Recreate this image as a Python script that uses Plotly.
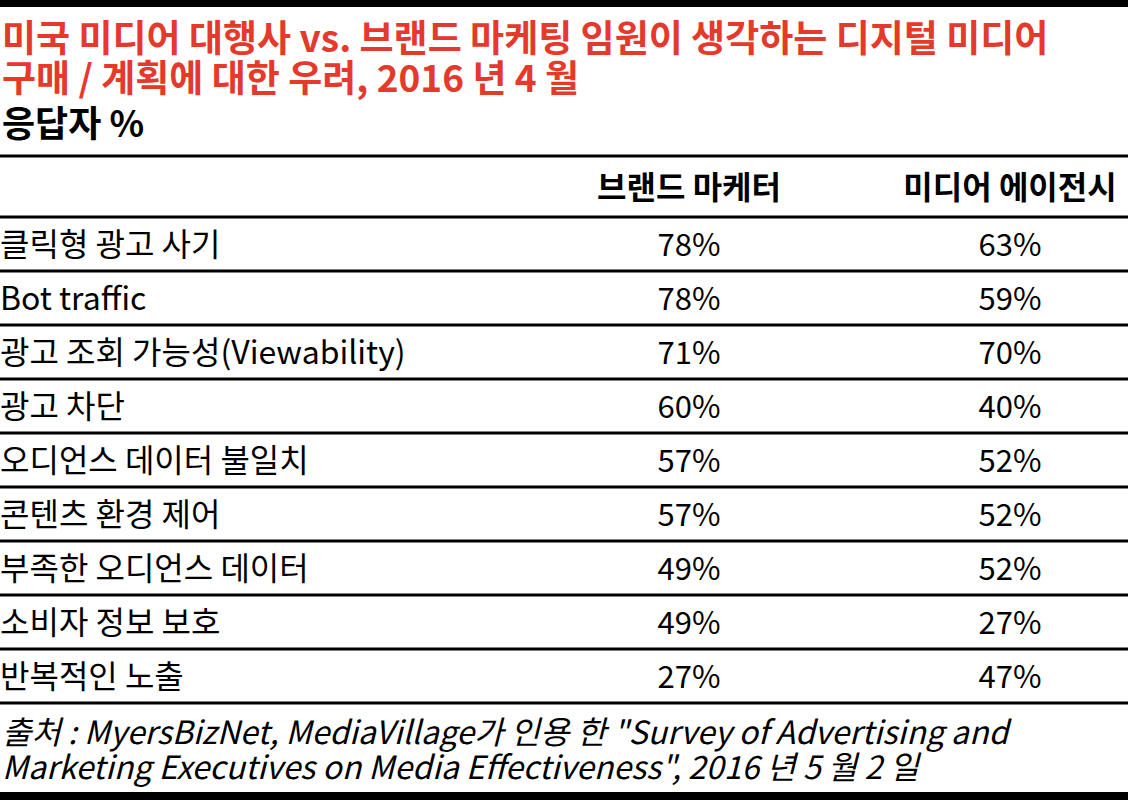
import plotly.graph_objects as go

W, H = 1128, 800
FONT = "Noto Sans CJK KR"
RED = "#e5392c"

title_lines = ["미국 미디어 대행사 vs. 브랜드 마케팅 임원이 생각하는 디지털 미디어",
               "구매 / 계획에 대한 우려, 2016 년 4 월"]
subtitle = "응답자 %"
columns = ["브랜드 마케터", "미디어 에이전시"]
concerns = ["클릭형 광고 사기", "Bot traffic", "광고 조회 가능성(Viewability)",
            "광고 차단", "오디언스 데이터 불일치", "콘텐츠 환경 제어",
            "부족한 오디언스 데이터", "소비자 정보 보호", "반복적인 노출"]
brand_marketers = [78, 78, 71, 60, 57, 57, 49, 49, 27]
media_agencies = [63, 59, 70, 40, 52, 52, 52, 27, 47]
source_lines = ['출처 : MyersBizNet, MediaVillage가 인용 한 "Survey of Advertising and',
                'Marketing Executives on Media Effectiveness", 2016 년 5 월 2 일']

# layout in pixels
rule_top, row_h = 217, 54
text_nudge = 4  # text 'middle' sits a little high
header_y = 187 + text_nudge
col_x = [689, 1010]
row_y = [rule_top + row_h * (i + 0.5) + text_nudge for i in range(len(concerns))]

fig = go.Figure()

# row labels
fig.add_trace(go.Scatter(
    x=[0] * len(concerns), y=row_y, text=concerns, mode="text",
    textposition="middle right", hoverinfo="skip",
    textfont=dict(family=FONT, size=32, color="black")))

# values
for cx, vals in zip(col_x, [brand_marketers, media_agencies]):
    fig.add_trace(go.Scatter(
        x=[cx] * len(vals), y=row_y, text=["%d%%" % v for v in vals],
        mode="text", textposition="middle center", hoverinfo="skip",
        textfont=dict(family=FONT, size=31, color="black")))

# column headers
fig.add_trace(go.Scatter(
    x=col_x, y=[header_y] * len(columns), text=columns, mode="text",
    textposition="middle center", hoverinfo="skip",
    textfont=dict(family=FONT, size=32, color="black", weight="bold")))

shapes = []
# top and bottom bars
shapes.append(dict(type="rect", x0=0, x1=W, y0=0, y1=7, fillcolor="black", line_width=0))
shapes.append(dict(type="rect", x0=0, x1=W, y0=792, y1=H, fillcolor="black", line_width=0))
# header rule
shapes.append(dict(type="line", x0=0, x1=W, y0=156, y1=156, line=dict(color="black", width=3)))
# row rules
for k in range(len(concerns) + 1):
    yy = rule_top + row_h * k
    shapes.append(dict(type="line", x0=0, x1=W, y0=yy, y1=yy,
                       line=dict(color="black", width=3)))

annotations = []
for i, t in enumerate(title_lines):
    annotations.append(dict(x=0, y=36 + 40 * i, text=t, showarrow=False,
                            xanchor="left", yanchor="middle",
                            font=dict(family=FONT, size=37, color=RED, weight="bold")))
annotations.append(dict(x=0, y=121, text=subtitle, showarrow=False,
                        xanchor="left", yanchor="middle",
                        font=dict(family=FONT, size=36, color="black", weight="bold")))
for i, t in enumerate(source_lines):
    annotations.append(dict(x=0, y=730 + 35 * i, text=t, showarrow=False,
                            xanchor="left", yanchor="middle",
                            font=dict(family=FONT, size=32, color="black", style="italic")))

fig.update_layout(
    width=W, height=H,
    margin=dict(l=0, r=0, t=0, b=0),
    paper_bgcolor="white", plot_bgcolor="white",
    showlegend=False,
    xaxis=dict(range=[0, W], visible=False, fixedrange=True),
    yaxis=dict(range=[H, 0], visible=False, fixedrange=True),
    shapes=shapes, annotations=annotations,
)

fig.write_html("out.html", config={"displayModeBar": False},
               post_script="document.body.style.margin = '0px';")
